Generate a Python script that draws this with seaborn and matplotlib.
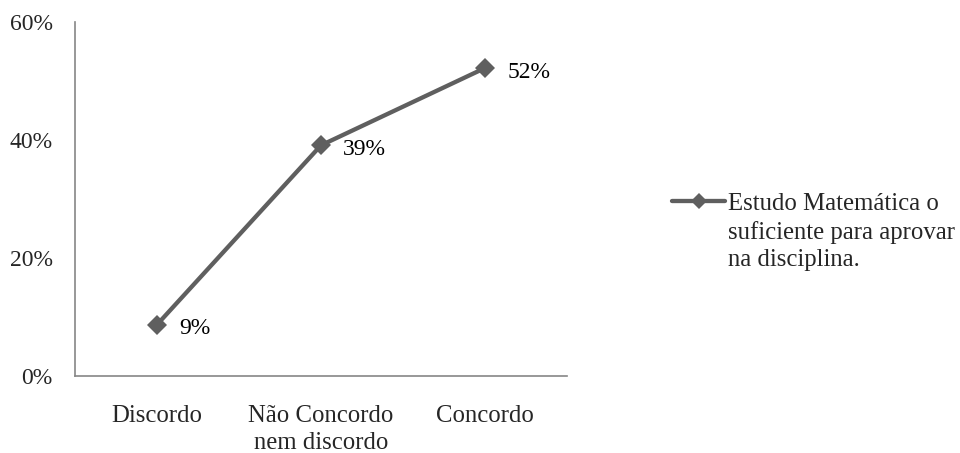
import matplotlib
matplotlib.use("Agg")
import matplotlib.pyplot as plt
import seaborn as sns
import pandas as pd
from matplotlib.ticker import FixedLocator, NullFormatter, FixedFormatter
from matplotlib.legend_handler import HandlerLine2D

categories = ["Discordo", "Não Concordo\nnem discordo", "Concordo"]
values = [8.7, 39.1, 52.2]
value_labels = ["9%", "39%", "52%"]
series_name = "Estudo Matemática o\nsuficiente para aprovar\nna disciplina."
y_ticks = [0, 20, 40, 60]
y_tick_labels = ["0%", "20%", "40%", "60%"]

sns.set_style("white")
plt.rcParams["font.family"] = ["Liberation Serif", "DejaVu Serif"]
FS = 17.8
FSY = 17
LS = 1.3
plt.rcParams["font.size"] = FS

df = pd.DataFrame({"x": list(range(len(categories))), "y": values, "s": series_name})

fig = plt.figure(figsize=(9.6, 4.53), dpi=100)
ax = fig.add_axes([75/960, 1-376/453, (567-75)/960, (376-22)/453])

sns.lineplot(data=df, x="x", y="y", hue="s", palette=["#5f5f5f"], marker="D",
             markersize=10, linewidth=3.1, markeredgewidth=0, ax=ax, legend=True)

for i, (v, lab) in enumerate(zip(values, value_labels)):
    ax.annotate(lab, (i, v), xytext=(16, -3), textcoords="offset points",
                ha="left", va="center", fontsize=FSY, color="black")

ax.set_xlim(-0.5, 2.5)
ax.set_ylim(0, 60)
ax.set_yticks(y_ticks)
ax.set_yticklabels(y_tick_labels)
ax.xaxis.set_major_locator(FixedLocator([-0.5, 0.5, 1.5, 2.5]))
ax.xaxis.set_major_formatter(NullFormatter())
ax.xaxis.set_minor_locator(FixedLocator([0, 1, 2]))
ax.xaxis.set_minor_formatter(FixedFormatter(categories))
ax.tick_params(axis="x", which="minor", length=0, pad=21, labelsize=FS)
ax.tick_params(axis="x", which="major", length=5, width=1, color="#868686", direction="out")
ax.tick_params(axis="y", length=5, width=1, color="#868686", direction="out", labelsize=FSY, pad=11)
for t in ax.xaxis.get_minorticklabels():
    t.set_linespacing(LS)
ax.set_xlabel("")
ax.set_ylabel("")
for sp in ["top", "right"]:
    ax.spines[sp].set_visible(False)
for sp in ["left", "bottom"]:
    ax.spines[sp].set_color("#868686")
    ax.spines[sp].set_linewidth(1.2)


class TopLineHandler(HandlerLine2D):
    """Line handle aligned with the first line of a multi-line label."""
    def __init__(self, shift, **kw):
        super().__init__(**kw)
        self.shift = shift

    def create_artists(self, legend, orig_handle, xdescent, ydescent,
                       width, height, fontsize, trans):
        arts = super().create_artists(legend, orig_handle, xdescent, ydescent,
                                      width, height, fontsize, trans)
        for a in arts:
            a.set_ydata([y + self.shift for y in a.get_ydata()])
        return arts


handles, labels = ax.get_legend_handles_labels()
leg = ax.legend(handles, labels, loc="center left", bbox_to_anchor=(672/960, 1-232/453),
                bbox_transform=fig.transFigure, frameon=False, fontsize=FS,
                handlelength=2.15, handletextpad=0.1, borderaxespad=0, borderpad=0,
                handler_map={type(handles[0]): TopLineHandler(shift=22)})
for t in leg.get_texts():
    t.set_linespacing(LS)
for h in leg.legend_handles:
    h.set_markersize(8.5)

fig.savefig("out.png", dpi=100)
